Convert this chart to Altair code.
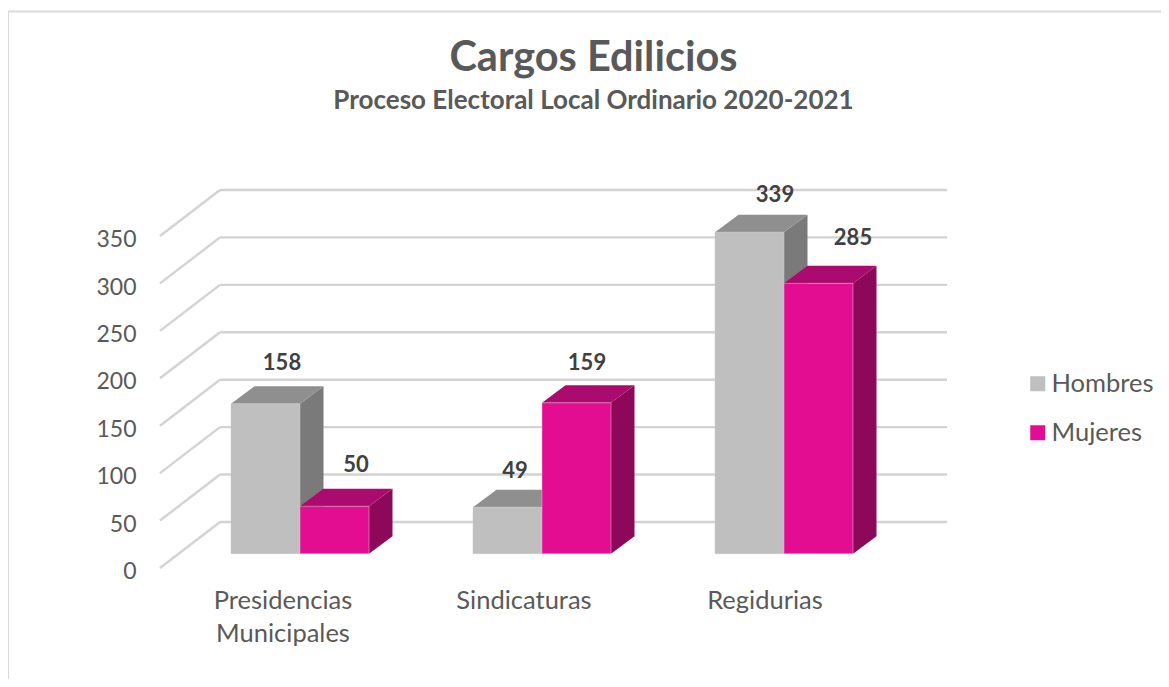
import altair as alt
import pandas as pd

# ---- chart values ----
categories = ["Presidencias Municipales", "Sindicaturas", "Regidurias"]
category_lines = [["Presidencias", "Municipales"], ["Sindicaturas"], ["Regidurias"]]
series_names = ["Hombres", "Mujeres"]
hombres = [158, 49, 339]
mujeres = [50, 159, 285]
y_ticks = [0, 50, 100, 150, 200, 250, 300, 350]
title_text = "Cargos Edilicios"
subtitle_text = "Proceso Electoral Local Ordinario 2020-2021"

# ---- layout (all in page pixels, converted to scale units below) ----
W, H = 1153, 671
MARGIN = 8
PX_PER_UNIT = 47.43 / 50
BASE_Y = 553.7          # screen y of a bar's zero
FRONT_X, BACK_X = 160, 220
WALL_RIGHT = 947
FRONT_Y0, BACK_Y0 = 568, 522
BAR_W = 69
BAR_DX, BAR_DY = 23.5, 17.5
GROUP_LEFT = [231, 473, 715]
CAT_LABEL_X = [283, 524, 765]
CAT_LABEL_Y0 = 601
CAT_LINE = 33
LABEL_DX = {"Hombres": [51, 42, 60], "Mujeres": [56, 45, 69]}
LABEL_DY = {"Hombres": [40.5, 36, 37], "Mujeres": [41.5, 39.5, 45.5]}

COLORS = {"Hombres": "#BFBFBF", "Mujeres": "#E30D92"}
TOPS = {"Hombres": "#8F8F8F", "Mujeres": "#AB0A6E"}
SIDES = {"Hombres": "#7A7A7A", "Mujeres": "#8E0859"}
TEXT = "#595959"
GRID = "#D3D3D3"
FONT = "Lato"


def px(x):
    return x - MARGIN


def val(y):
    return (BASE_Y - y) / PX_PER_UNIT


X = alt.Scale(domain=[0, W], range=[0, W], nice=False, zero=False)
Y = alt.Scale(domain=[val(MARGIN + H), val(MARGIN)], range=[H, 0], nice=False, zero=False)
Y_AXIS = alt.Axis(
    values=y_ticks, domain=False, ticks=False, grid=False, offset=-128, title=None,
    labelOffset=18, labelFontSize=23, labelColor=TEXT, labelFont=FONT,
    labelPadding=0, labelOverlap=False, format="d", labelFlush=False)
xq = lambda f: alt.X(f"{f}:Q", scale=X, axis=None)
yq = lambda f: alt.Y(f"{f}:Q", scale=Y, axis=Y_AXIS, stack=None)

values = {"Hombres": hombres, "Mujeres": mujeres}

# walls
back = val(BACK_Y0)
front = val(FRONT_Y0)
walls = pd.DataFrame({"tick": y_ticks})
walls["by"] = walls["tick"] + back
walls["fy"] = walls["tick"] + front
walls["bx"] = px(BACK_X)
walls["fx"] = px(FRONT_X)
walls["rx"] = px(WALL_RIGHT)

grid_back = alt.Chart(walls).mark_rule(color=GRID, strokeWidth=2.4).encode(
    x=xq("bx"), x2="rx:Q", y=yq("by"))
grid_side = alt.Chart(walls).mark_rule(color=GRID, strokeWidth=2.4).encode(
    x=xq("fx"), x2="bx:Q", y=yq("fy"), y2="by:Q")

# frame
frame = pd.DataFrame({"x0": [px(8)], "x1": [W], "y0": [val(11.5)], "y1": [val(MARGIN + H)]})
frame_top = alt.Chart(frame).mark_rule(color="#D9D9D9", strokeWidth=2).encode(
    x=xq("x0"), x2="x1:Q", y=yq("y0"))
frame_left = alt.Chart(frame).mark_rule(color="#D9D9D9", strokeWidth=2).encode(
    x=xq("x0"), y=yq("y0"), y2="y1:Q")

# bars
rows, side_rows, top_rows, label_rows = [], [], [], []
for s_i, s in enumerate(series_names):
    for c_i, cat in enumerate(categories):
        v = values[s][c_i]
        left = px(GROUP_LEFT[c_i] + s_i * BAR_W)
        right = left + BAR_W
        dep = BAR_DY / PX_PER_UNIT
        bar = f"{s}-{c_i}"
        rows.append({"serie": s, "cat": cat, "x": left, "x2": right, "v": v, "zero": 0})
        side_rows += [
            {"serie": s, "bar": bar, "x": right, "y": v, "y2": 0},
            {"serie": s, "bar": bar, "x": right + BAR_DX, "y": v + dep, "y2": dep},
        ]
        top_rows += [
            {"serie": s, "bar": bar, "y": v, "x": left, "x2": right},
            {"serie": s, "bar": bar, "y": v + dep, "x": left + BAR_DX, "x2": right + BAR_DX},
        ]
        label_rows.append({
            "v": v,
            "lx": px(GROUP_LEFT[c_i] + LABEL_DX[s][c_i] + (BAR_W if s_i else 0)),
            "ly": v + LABEL_DY[s][c_i] / PX_PER_UNIT,
        })

bars_df = pd.DataFrame(rows)
side_df = pd.DataFrame(side_rows)
top_df = pd.DataFrame(top_rows)
label_df = pd.DataFrame(label_rows)

faces = []
for s in series_names:
    faces.append(
        alt.Chart(side_df[side_df.serie == s]).mark_area(color=SIDES[s], opacity=1, line=False).encode(
            x=xq("x"), y=yq("y"), y2="y2:Q", detail="bar:N"))
    faces.append(
        alt.Chart(top_df[top_df.serie == s]).mark_area(color=TOPS[s], opacity=1, orient="horizontal").encode(
            y=yq("y"), x=alt.X("x:Q", scale=X, axis=None, stack=None), x2="x2:Q", detail="bar:N"))

fronts = alt.Chart(bars_df).mark_bar(opacity=1, stroke="#C9C9C9", strokeWidth=0.5).encode(
    x=xq("x"), x2="x2:Q", y=yq("v"), y2="zero:Q",
    color=alt.Color("serie:N", scale=alt.Scale(domain=series_names, range=[COLORS[s] for s in series_names]),
                    legend=alt.Legend(
                        orient="none", legendX=1025 - MARGIN, legendY=371 - MARGIN, title=None,
                        symbolType="square", symbolSize=225, symbolStrokeWidth=0, labelFontSize=25.5,
                        labelFont=FONT, labelColor=TEXT, rowPadding=22, labelOffset=1, columns=1)))

data_labels = alt.Chart(label_df).mark_text(
    font=FONT, fontSize=22, fontWeight="bold", color="#404040", baseline="middle").encode(
    x=xq("lx"), y=yq("ly"), text=alt.Text("v:Q", format="d"))

cat_rows = []
for c_i, lines in enumerate(category_lines):
    for l_i, line in enumerate(lines):
        cat_rows.append({"t": line, "x": px(CAT_LABEL_X[c_i]), "y": val(CAT_LABEL_Y0 + l_i * CAT_LINE)})
cat_labels = alt.Chart(pd.DataFrame(cat_rows)).mark_text(
    font=FONT, fontSize=25.5, color=TEXT, baseline="middle").encode(
    x=xq("x"), y=yq("y"), text="t:N")

chart = alt.layer(
    frame_top, frame_left, grid_back, grid_side, *faces, fronts, data_labels, cat_labels
).properties(
    width=W, height=H,
    padding=0,
    autosize=alt.AutoSizeParams(type="none"),
    title=alt.TitleParams(
        text=title_text, subtitle=subtitle_text, anchor="middle", frame="group",
        font=FONT, fontSize=41.5, fontWeight="bold", color=TEXT,
        subtitleFont=FONT, subtitleFontSize=26, subtitleFontWeight="bold", subtitleColor=TEXT,
        subtitlePadding=8, dx=9, dy=105.5, offset=0),
).configure_view(stroke=None)

chart.save("out.html", embed_options={"renderer": "svg", "actions": False})
